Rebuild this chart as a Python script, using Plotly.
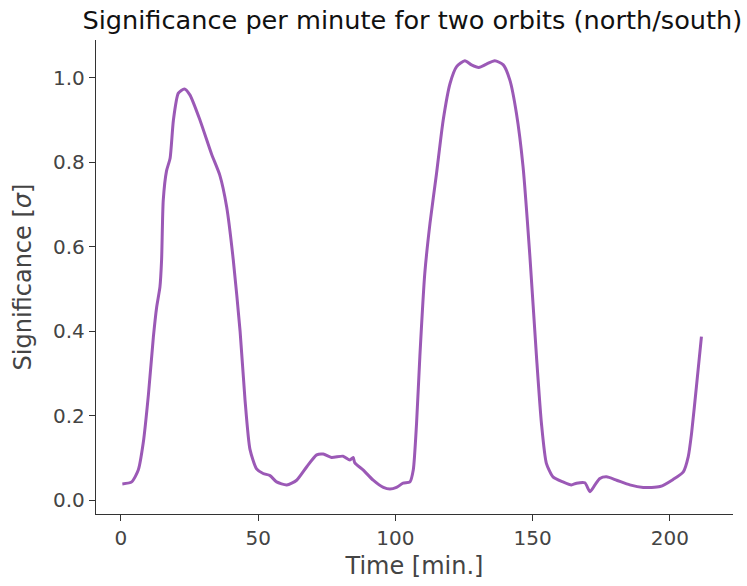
import plotly.graph_objects as go

# Significance per minute over two orbits (north/south passes)
time_min = [0.5, 3.9, 6.3, 8.1, 10.0, 11.8, 13.0, 14.2, 14.8, 15.4, 16.6, 17.9, 19.1, 20.9,
            23.1, 25.1, 28.8, 33.0, 36.0, 38.5, 40.9, 43.4, 45.2, 47.0, 49.4, 51.8, 54.3,
            56.7, 60.4, 64.0, 67.7, 71.3, 73.7, 76.7, 80.9, 83.4, 84.6, 85.2, 88.3, 91.9,
            95.6, 98.0, 100.4, 102.8, 105.3, 106.5, 107.7, 108.9, 110.7, 112.6, 115.0,
            117.4, 119.9, 122.3, 125.3, 127.7, 130.4, 133.2, 136.2, 139.3, 141.7, 144.1,
            146.5, 149.0, 151.4, 153.2, 155.0, 157.4, 161.1, 164.1, 166.0, 169.0, 170.9,
            172.7, 174.5, 176.9, 180.6, 185.4, 190.3, 196.4, 201.2, 204.9, 206.7, 207.9,
            209.8, 211.5]
significance = [0.038, 0.043, 0.071, 0.135, 0.25, 0.386, 0.457, 0.505, 0.569, 0.71, 0.78,
                0.81, 0.90, 0.964, 0.974, 0.96, 0.90, 0.82, 0.77, 0.695, 0.57, 0.40, 0.237,
                0.12, 0.074, 0.063, 0.058, 0.043, 0.036, 0.047, 0.079, 0.107, 0.109, 0.101,
                0.104, 0.095, 0.101, 0.088, 0.071, 0.047, 0.03, 0.026, 0.03, 0.04, 0.043,
                0.071, 0.182, 0.34, 0.537, 0.656, 0.775, 0.90, 0.987, 1.027, 1.041, 1.031,
                1.025, 1.033, 1.041, 1.031, 0.995, 0.916, 0.79, 0.577, 0.34, 0.182, 0.087,
                0.055, 0.043, 0.036, 0.04, 0.041, 0.02, 0.036, 0.051, 0.055, 0.047, 0.036,
                0.03, 0.032, 0.049, 0.067, 0.103, 0.158, 0.277, 0.387]

x_ticks = [0, 50, 100, 150, 200]
y_ticks = [0.0, 0.2, 0.4, 0.6, 0.8, 1.0]

LINE_COLOR = "#9b59b6"
FONT = "DejaVu Sans"

fig = go.Figure(
    go.Scatter(
        x=time_min, y=significance, mode="lines",
        line=dict(color=LINE_COLOR, width=3, shape="spline", smoothing=0.6),
        hoverinfo="x+y",
    )
)

axis_common = dict(
    showgrid=False, zeroline=False, showline=True, linecolor="#333333", linewidth=1.3,
    ticks="outside", ticklen=6, tickwidth=1.3, tickcolor="#333333",
    tickfont=dict(family=FONT, size=20, color="#444444"),
)

fig.update_layout(
    width=747, height=586,
    margin=dict(l=96, r=14, t=40, b=72),
    paper_bgcolor="white", plot_bgcolor="white",
    showlegend=False,
    title=dict(
        text="Significance per minute for two orbits (north/south)",
        x=0.552, xanchor="center", y=0.965, yanchor="middle",
        font=dict(family=FONT, size=25.6, color="#111111"),
    ),
    xaxis=dict(
        axis_common, range=[-9.1, 223], tickvals=x_ticks,
        ticktext=[str(v) for v in x_ticks],
        title=dict(text="Time [min.]", font=dict(family=FONT, size=24, color="#444444"), standoff=8),
    ),
    yaxis=dict(
        axis_common, range=[-0.033, 1.09], tickvals=y_ticks,
        ticktext=[f"{v:.1f}" for v in y_ticks],
        title=dict(text="Significance [<i>σ</i>]", font=dict(family=FONT, size=24, color="#444444"), standoff=14),
    ),
)

fig.write_html("out.html")
